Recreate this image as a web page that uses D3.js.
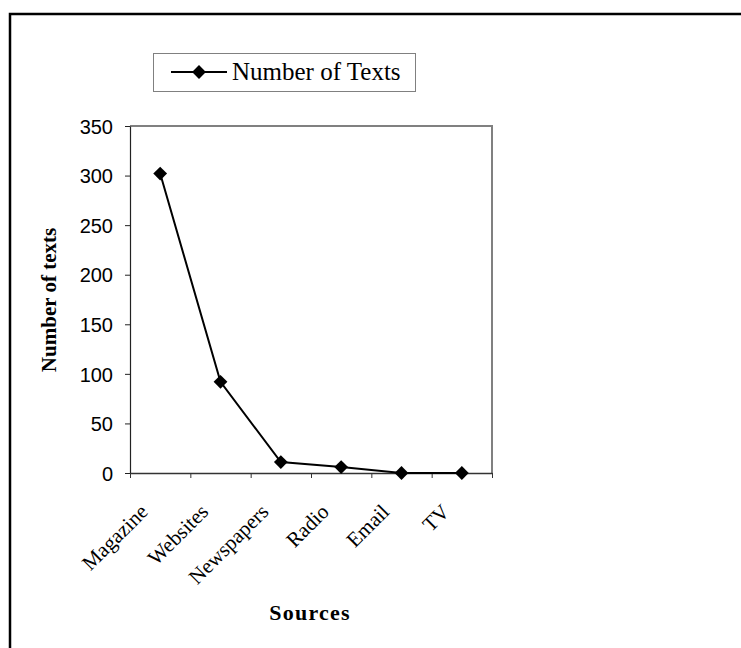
<!DOCTYPE html>
<html>
<head>
<meta charset="utf-8">
<script src="https://cdn.jsdelivr.net/npm/d3@7"></script>
<style>
html,body{margin:0;padding:0;background:#fff;}
svg{display:block;}
</style>
</head>
<body>
<svg id="chart" width="741" height="648"></svg>
<script>
const categories = ["Magazine", "Websites", "Newspapers", "Radio", "Email", "TV"];
const values = [302, 92, 11, 6, 0, 0];
const yTicks = [0, 50, 100, 150, 200, 250, 300, 350];
const seriesName = "Number of Texts";
const yTitle = "Number of texts";
const xTitle = "Sources";

const svg = d3.select("#chart");
const plotL = 130, plotR = 492, plotT = 126, plotB = 473;

// outer frame
svg.append("rect").attr("x", 10).attr("y", 14).attr("width", 780).attr("height", 700)
  .attr("fill", "none").attr("stroke", "#000").attr("stroke-width", 2.5);

const x = d3.scaleBand().domain(categories).range([plotL, plotR]);
const xb = d3.scaleLinear().domain([0, categories.length]).range([plotL, plotR]);
const y = d3.scaleLinear().domain([0, 350]).range([plotB, plotT]);

// plot frame (top/right gray)
svg.append("path")
  .attr("d", `M${plotL},${plotT}H${plotR}V${plotB}`)
  .attr("fill", "none").attr("stroke", "#808080").attr("stroke-width", 2);

// y axis
const ya = svg.append("g").attr("transform", `translate(${plotL},0)`)
  .call(d3.axisLeft(y).tickValues(yTicks).tickSize(5).tickSizeOuter(0).tickFormat(d3.format("d")));
ya.select(".domain").attr("stroke", "#222").attr("stroke-width", 1.2);
ya.selectAll(".tick line").attr("stroke", "#222");
ya.selectAll(".tick text").attr("font-family", "Liberation Sans, Arial, sans-serif")
  .attr("font-size", 20).attr("fill", "#000").attr("x", -17).attr("dy", "0.36em");

// x axis
const xa = svg.append("g").attr("transform", `translate(0,${plotB})`)
  .call(d3.axisBottom(xb).tickValues(d3.range(categories.length + 1)).tickSize(5).tickSizeOuter(0).tickFormat(""));
xa.select(".domain").attr("stroke", "#333").attr("stroke-width", 1.5);
xa.selectAll(".tick line").attr("stroke", "#333");

// x labels
svg.append("g").selectAll("text").data(categories).join("text")
  .attr("transform", d => `translate(${x(d) + x.bandwidth() / 2 - 11},${513}) rotate(-45)`)
  .attr("text-anchor", "end")
  .attr("font-family", "Liberation Serif, Times New Roman, serif")
  .attr("font-size", 21).attr("fill", "#000")
  .text(d => d);

// line
const line = d3.line().x((d, i) => x(categories[i]) + x.bandwidth() / 2).y(d => y(d));
svg.append("path").datum(values).attr("d", line)
  .attr("fill", "none").attr("stroke", "#000").attr("stroke-width", 2);

const diamond = d3.symbol().type(d3.symbolSquare).size(95);
svg.append("g").selectAll("path").data(values).join("path")
  .attr("d", diamond)
  .attr("transform", (d, i) => `translate(${x(categories[i]) + x.bandwidth() / 2},${y(d)}) rotate(45)`)
  .attr("fill", "#000");

// axis titles
svg.append("text")
  .attr("transform", "translate(56,300) rotate(-90)")
  .attr("text-anchor", "middle")
  .attr("font-family", "Liberation Serif, Times New Roman, serif")
  .attr("font-weight", "bold").attr("font-size", 21).attr("fill", "#000")
  .text(yTitle);

svg.append("text")
  .attr("x", 310).attr("y", 620)
  .attr("text-anchor", "middle")
  .attr("font-family", "Liberation Serif, Times New Roman, serif")
  .attr("font-weight", "bold").attr("font-size", 22).attr("letter-spacing", 1.2).attr("fill", "#000")
  .text(xTitle);

// legend
const lg = svg.append("g");
lg.append("rect").attr("x", 153.5).attr("y", 53.5).attr("width", 262).attr("height", 38)
  .attr("fill", "#fff").attr("stroke", "#808080").attr("stroke-width", 1);
lg.append("line").attr("x1", 171).attr("x2", 227).attr("y1", 72).attr("y2", 72)
  .attr("stroke", "#000").attr("stroke-width", 2);
lg.append("path").attr("d", diamond).attr("transform", "translate(199,72) rotate(45)").attr("fill", "#000");
lg.append("text").attr("x", 232).attr("y", 80)
  .attr("font-family", "Liberation Serif, Times New Roman, serif")
  .attr("font-size", 25).attr("fill", "#000")
  .text(seriesName);
</script>
</body>
</html>
